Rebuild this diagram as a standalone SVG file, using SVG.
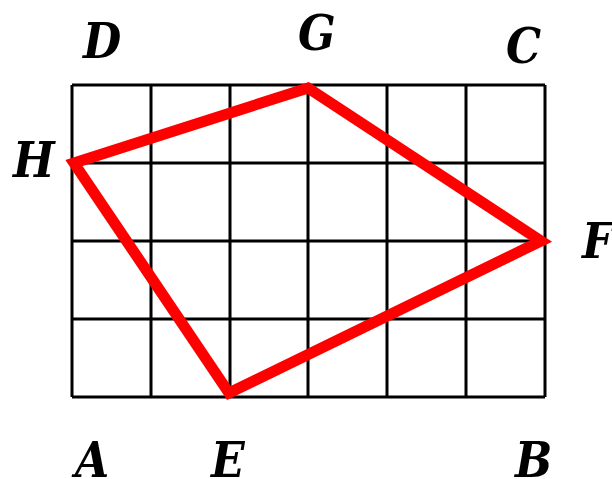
<svg xmlns="http://www.w3.org/2000/svg" width="612" height="479" viewBox="0 0 612 479">
<style>
.grid{stroke:#000;stroke-width:3;fill:none}
.poly{stroke:#ff0000;stroke-width:11;fill:none;stroke-linejoin:miter}
.lbl{font-family:"DejaVu Serif Condensed","DejaVu Serif","Liberation Serif",serif;font-stretch:condensed;font-weight:bold;font-style:italic;font-size:49px;fill:#000}
</style>
<rect width="612" height="479" fill="#fff"/>
<g id="grid" class="grid">
<path d="M72 85H545M72 163H545M72 241H545M72 319H545M72 397H545"/>
<path d="M72 85V397M151 85V397M230 85V397M308 85V397M387 85V397M466 85V397M545 85V397"/>
</g>
<g id="quadrilateral">
<polygon class="poly" points="74,163 308,88 541,241 229,393"/>
</g>
<g id="labels" class="lbl">
<text x="83" y="58">D</text>
<text x="298" y="50">G</text>
<text x="506" y="63">C</text>
<text x="13" y="177">H</text>
<text x="582" y="258">F</text>
<text x="75" y="477">A</text>
<text x="211" y="477">E</text>
<text x="515" y="477">B</text>
</g>
</svg>
